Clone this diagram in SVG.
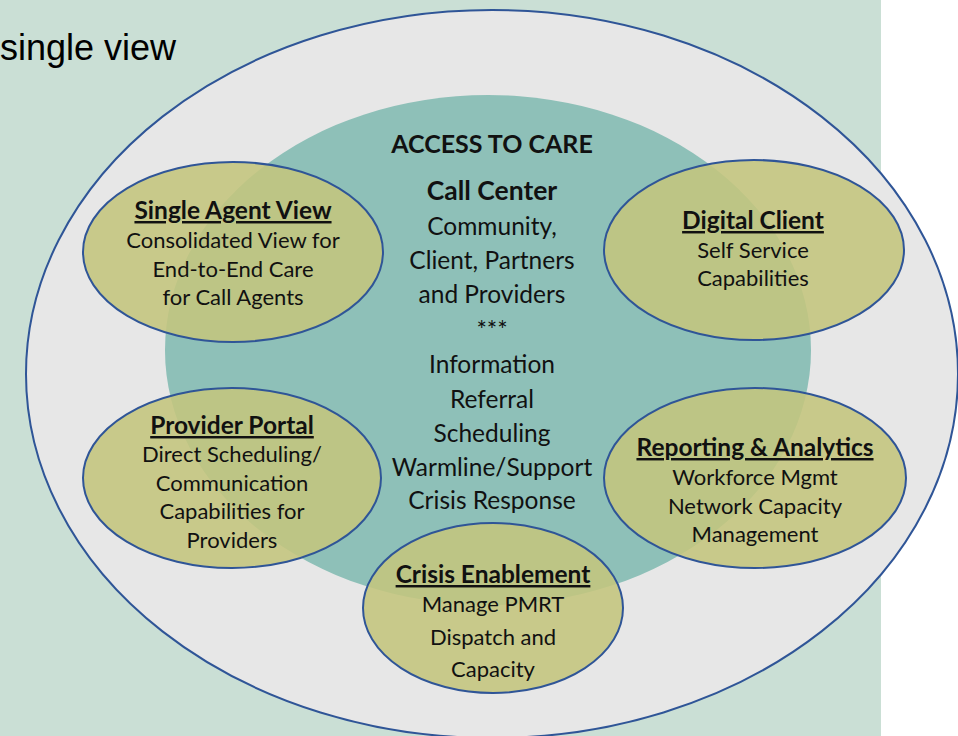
<svg xmlns="http://www.w3.org/2000/svg" width="958" height="736" viewBox="0 0 958 736">
<style>
  .bg{fill:#cadfd5}
  .outer{fill:#e7e7e7;stroke:#2f5597;stroke-width:2}
  .core{fill:#8ec0b8}
  .node{fill:rgb(196,197,125);fill-opacity:0.88;stroke:#2f5597;stroke-width:2}
  text{font-family:Lato,"Open Sans","Liberation Sans",sans-serif;fill:#111;text-anchor:middle}
  .t{font-size:24.5px;font-weight:bold;text-decoration:underline}
  .b{font-size:22px}
  .c{font-size:24.5px}
  .h{font-size:25px;font-weight:bold}
  .cc{font-size:26.5px;font-weight:bold}
  .side{font-family:"Liberation Sans",Arial,sans-serif;font-size:36px;text-anchor:start;fill:#000}
</style>
<rect class="bg" x="0" y="0" width="881" height="736"/>
<text class="side" x="0" y="60">single view</text>
<ellipse class="outer" cx="492" cy="374" rx="466" ry="364"/>
<g id="access-to-care">
  <ellipse class="core" cx="488" cy="350" rx="323" ry="255"/>
  <text class="h" x="492" y="153">ACCESS TO CARE</text>
  <text class="cc" x="492" y="200">Call Center</text>
  <text class="c" x="492" y="235">Community,</text>
  <text class="c" x="492" y="269">Client, Partners</text>
  <text class="c" x="492" y="303">and Providers</text>
  <text class="c" x="492" y="339">***</text>
  <text class="c" x="492" y="373">Information</text>
  <text class="c" x="492" y="408">Referral</text>
  <text class="c" x="492" y="442">Scheduling</text>
  <text class="c" x="492" y="476">Warmline/Support</text>
  <text class="c" x="492" y="509">Crisis Response</text>
</g>
<g id="connectors"></g>
<g id="single-agent-view">
  <ellipse class="node" cx="233" cy="252" rx="150" ry="90"/>
  <text class="t" x="233" y="219">Single Agent View</text>
  <text class="b" x="233" y="248">Consolidated View for</text>
  <text class="b" x="233" y="277">End-to-End Care</text>
  <text class="b" x="233" y="305">for Call Agents</text>
</g>
<g id="provider-portal">
  <ellipse class="node" cx="232" cy="478" rx="149" ry="90"/>
  <text class="t" x="232" y="434">Provider Portal</text>
  <text class="b" x="232" y="462">Direct Scheduling/</text>
  <text class="b" x="232" y="491">Communication</text>
  <text class="b" x="232" y="519">Capabilities for</text>
  <text class="b" x="232" y="548">Providers</text>
</g>
<g id="digital-client">
  <ellipse class="node" cx="754" cy="250" rx="150" ry="90"/>
  <text class="t" x="753" y="229">Digital Client</text>
  <text class="b" x="753" y="258">Self Service</text>
  <text class="b" x="753" y="286">Capabilities</text>
</g>
<g id="reporting-analytics">
  <ellipse class="node" cx="755" cy="478" rx="151" ry="90"/>
  <text class="t" x="755" y="456">Reporting &amp; Analytics</text>
  <text class="b" x="755" y="485">Workforce Mgmt</text>
  <text class="b" x="755" y="514">Network Capacity</text>
  <text class="b" x="755" y="542">Management</text>
</g>
<g id="crisis-enablement">
  <ellipse class="node" cx="493" cy="608" rx="130" ry="85"/>
  <text class="t" x="493" y="583">Crisis Enablement</text>
  <text class="b" x="493" y="612">Manage PMRT</text>
  <text class="b" x="493" y="645">Dispatch and</text>
  <text class="b" x="493" y="677">Capacity</text>
</g>
</svg>
